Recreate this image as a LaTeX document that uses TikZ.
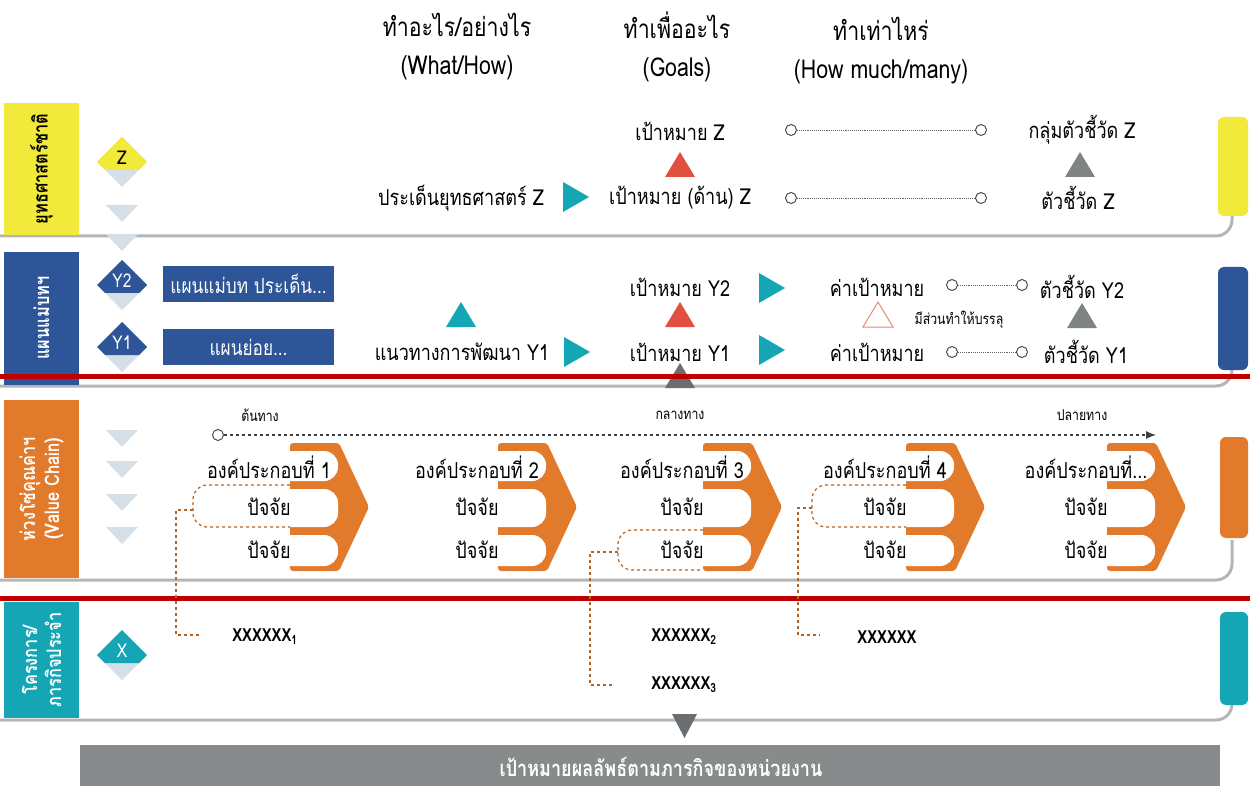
\documentclass[tikz,border=0pt]{standalone}
\usepackage{fontspec}
\setmainfont[Script=Thai, FakeStretch=0.82]{Loma}
\usetikzlibrary{arrows.meta}

\definecolor{yelc}{HTML}{F2EA3A}
\definecolor{bluec}{HTML}{2D5597}
\definecolor{orangec}{HTML}{E27A2B}
\definecolor{tealc}{HTML}{15A6B6}
\definecolor{redtri}{HTML}{E14F3E}
\definecolor{redbar}{HTML}{C00000}
\definecolor{grayt}{HTML}{808384}
\definecolor{darkt}{HTML}{6B6E70}
\definecolor{lightc}{HTML}{D5DFE8}
\definecolor{barc}{HTML}{888B8C}
\definecolor{edgec}{HTML}{B5B5B5}

\begin{document}
\begin{tikzpicture}[x=1pt, y=-1pt,
  hdr/.style={font=\fontsize{26}{38}\selectfont, align=center, inner sep=0pt},
  rowtxt/.style={font=\fontsize{22}{24}\selectfont, inner sep=0pt},
  smalltxt/.style={font=\fontsize{15}{17}\selectfont, inner sep=0pt},
  sidelab/.style={rotate=90, font=\bfseries\fontsize{20}{24}\selectfont, align=center, inner sep=0pt},
  planbox/.style={fill=bluec, text=white, font=\fontsize{21}{24}\selectfont, minimum width=171, minimum height=36, inner sep=0pt},
  comptxt/.style={font=\fontsize{22}{24}\selectfont, inner sep=0pt},
  xtxt/.style={font=\bfseries\fontsize{18}{20}\selectfont, inner sep=0pt},
  ring/.style={circle, draw=black!70, fill=white, line width=1, inner sep=0pt, minimum size=11},
  dotline/.style={densely dotted, black!60, line width=0.9},
  chainline/.style={dashed, black!75, line width=1.1},
  callout/.style={dashed, orangec!80!black, line width=1.2},
  edgeline/.style={draw=edgec, line width=3},
  redline/.style={draw=redbar, line width=5}]

\useasboundingbox (0,0) rectangle (1250,786);

% panel edges
\foreach \ybot in {236,386,580,720}
  \draw[edgeline, rounded corners=16] (0,\ybot) -- (1232,\ybot) -- (1232,\ybot-40);

% side labels
\fill[yelc] (4,103) rectangle (79,235);
\node[sidelab, text=black] (sZ) at (41.5,169) {ยุทธศาสตร์ชาติ};
\fill[bluec] (4,252) rectangle (79,385);
\node[sidelab, text=white] (sY) at (41.5,318) {แผนแม่บทฯ};
\fill[orangec] (4,400) rectangle (79,578);
\node[sidelab, text=white] (sV) at (41.5,489) {ห่วงโซ่คุณค่าฯ\\(Value Chain)};
\fill[tealc] (4,602) rectangle (79,718);
\node[sidelab, text=white] (sX) at (41.5,660) {โครงการ/\\ภารกิจประจำ};

% right tabs
\fill[yelc, rounded corners=6] (1218,117) rectangle (1248,216);
\fill[bluec, rounded corners=6] (1218,267) rectangle (1248,370);
\fill[orangec, rounded corners=6] (1220,437) rectangle (1248,538);
\fill[tealc, rounded corners=6] (1220,612) rectangle (1248,705);

% headers
\node[hdr] (hWhat) at (457,47) {ทำอะไร/อย่างไร\\(What/How)};
\node[hdr] (hGoal) at (677,47) {ทำเพื่ออะไร\\(Goals)};
\node[hdr] (hMany) at (881,51) {ทำเท่าไหร่\\(How much/many)};

% diamonds
\foreach \cy/\col/\tc/\lab in {162/yelc/black/Z, 285/bluec/white/Y2, 347/bluec/white/Y1, 655/tealc/white/X} {
  \fill[lightc] (97,\cy) -- (122,\cy-25) -- (147,\cy) -- (122,\cy+25) -- cycle;
  \fill[\col] (97,\cy) -- (122,\cy-25) -- (147,\cy) -- (139,\cy+8) -- (105,\cy+8) -- cycle;
  \node[font=\fontsize{19}{21}\selectfont, text=\tc, inner sep=0pt] (d\lab) at (122,\cy-4) {\lab};
}
\foreach \ty in {205,234,430,461,494,527}
  \fill[lightc] (106,\ty) -- (138,\ty) -- (122,\ty+17) -- cycle;

% plan boxes
\node[planbox] (pMain) at (248.5,284) {แผนแม่บท ประเด็น...};
\node[planbox] (pSub) at (248.5,347) {แผนย่อย...};

% row Z
\node[rowtxt] (gZ) at (680,131) {เป้าหมาย Z};
\node[rowtxt] (iZ) at (461,198) {ประเด็นยุทธศาสตร์ Z};
\node[rowtxt] (gdZ) at (680,198) {เป้าหมาย (ด้าน) Z};
\node[rowtxt] (kgZ) at (1082,130) {กลุ่มตัวชี้วัด Z};
\node[rowtxt] (kZ) at (1078,198) {ตัวชี้วัด Z};
\node[ring] (zA1) at (791,130) {};
\node[ring] (zA2) at (981,130) {};
\node[ring] (zB1) at (791,198) {};
\node[ring] (zB2) at (981,198) {};
\draw[dotline] (zA1) -- (zA2);
\draw[dotline] (zB1) -- (zB2);

% row Y
\node[rowtxt] (gY2) at (680,287) {เป้าหมาย Y2};
\node[rowtxt] (gY1) at (680,352) {เป้าหมาย Y1};
\node[rowtxt] (wY1) at (462,352) {แนวทางการพัฒนา Y1};
\node[rowtxt] (tY2) at (877,287) {ค่าเป้าหมาย};
\node[rowtxt] (tY1) at (877,352) {ค่าเป้าหมาย};
\node[rowtxt] (kY2) at (1082,287) {ตัวชี้วัด Y2};
\node[rowtxt] (kY1) at (1086,352) {ตัวชี้วัด Y1};
\node[smalltxt] (help) at (959,320) {มีส่วนทำให้บรรลุ};
\node[ring] (yA1) at (952,285) {};
\node[ring] (yA2) at (1022,285) {};
\node[ring] (yB1) at (952,352) {};
\node[ring] (yB2) at (1022,352) {};
\draw[dotline] (yA1) -- (yA2);
\draw[dotline] (yB1) -- (yB2);

% arrows (triangles)
\foreach \tx/\ty in {563/197, 564/352, 759/288, 759/350}
  \fill[tealc] (\tx,\ty-15) -- (\tx+26,\ty) -- (\tx,\ty+15) -- cycle;
\foreach \tx/\ty/\col in {680/177/redtri, 680/327/redtri, 461/327/tealc, 1080/177/grayt, 1082/328/grayt, 680/388/darkt}
  \fill[\col] (\tx-15,\ty) -- (\tx,\ty-25) -- (\tx+15,\ty) -- cycle;
\draw[redtri!70, line width=1] (863,327) -- (878,302) -- (893,327) -- cycle;

% red lines
\draw[redline] (0,376) -- (1250,376);
\draw[redline] (0,598) -- (1250,598);

% value chain
\node[smalltxt] (vFrom) at (260,415) {ต้นทาง};
\node[smalltxt] (vMid) at (680,415) {กลางทาง};
\node[smalltxt] (vTo) at (1082,415) {ปลายทาง};
\node[ring] (vStart) at (218,435) {};
\coordinate (vEnd) at (1156,435);
\draw[chainline, -{Latex[length=10,width=8]}] (vStart) -- (vEnd);

\foreach \L/\head/\nm in {290/{องค์ประกอบที่ 1}/c1, 498/{องค์ประกอบที่ 2}/c2, 703/{องค์ประกอบที่ 3}/c3, 906/{องค์ประกอบที่ 4}/c4, 1107/{องค์ประกอบที่...}/c5} {
  \fill[orangec, rounded corners=3] (\L,443) -- (\L+49,443) -- (\L+79,507) -- (\L+49,571) -- (\L,571) -- cycle;
  \foreach \pt/\pb in {451/481, 489/527, 535/566}
    \fill[white, rounded corners=14] (\L-20,\pt) rectangle (\L+48,\pb);
  \node[comptxt] (\nm-h) at (\L-21,467) {\head};
  \node[comptxt] (\nm-f1) at (\L-21,507) {ปัจจัย};
  \node[comptxt] (\nm-f2) at (\L-21,550) {ปัจจัย};
}

% callouts
\draw[callout, rounded corners=14] (290,485) -- (193,485) -- (193,527) -- (290,527);
\draw[callout, rounded corners=14] (703,530) -- (618,530) -- (618,570) -- (703,570);
\draw[callout, rounded corners=14] (906,485) -- (812,485) -- (812,527) -- (906,527);
\coordinate (co1) at (193,510);
\coordinate (co2) at (618,552);
\coordinate (co3) at (812,508);
\coordinate (ce1) at (202,635);
\coordinate (ce2) at (612,685);
\coordinate (ce3) at (820,635);
\draw[callout] (co1) -- ++(-17,0) |- (ce1);
\draw[callout] (co2) -- ++(-28,0) |- (ce2);
\draw[callout] (co3) -- ++(-14,0) |- (ce3);

% projects
\node[xtxt] (x1) at (265,637) {XXXXXX\textsubscript{1}};
\node[xtxt] (x2) at (684,637) {XXXXXX\textsubscript{2}};
\node[xtxt] (x3) at (684,685) {XXXXXX\textsubscript{3}};
\node[xtxt] (x4) at (887,637) {XXXXXX};

% outcome
\fill[darkt] (672,714) -- (697,714) -- (684.5,738) -- cycle;
\fill[barc] (80,745) rectangle (1220,786);
\node[font=\bfseries\fontsize{22}{24}\selectfont, text=white, inner sep=0pt] (goal) at (661,767) {เป้าหมายผลลัพธ์ตามภารกิจของหน่วยงาน};

\end{tikzpicture}
\end{document}
